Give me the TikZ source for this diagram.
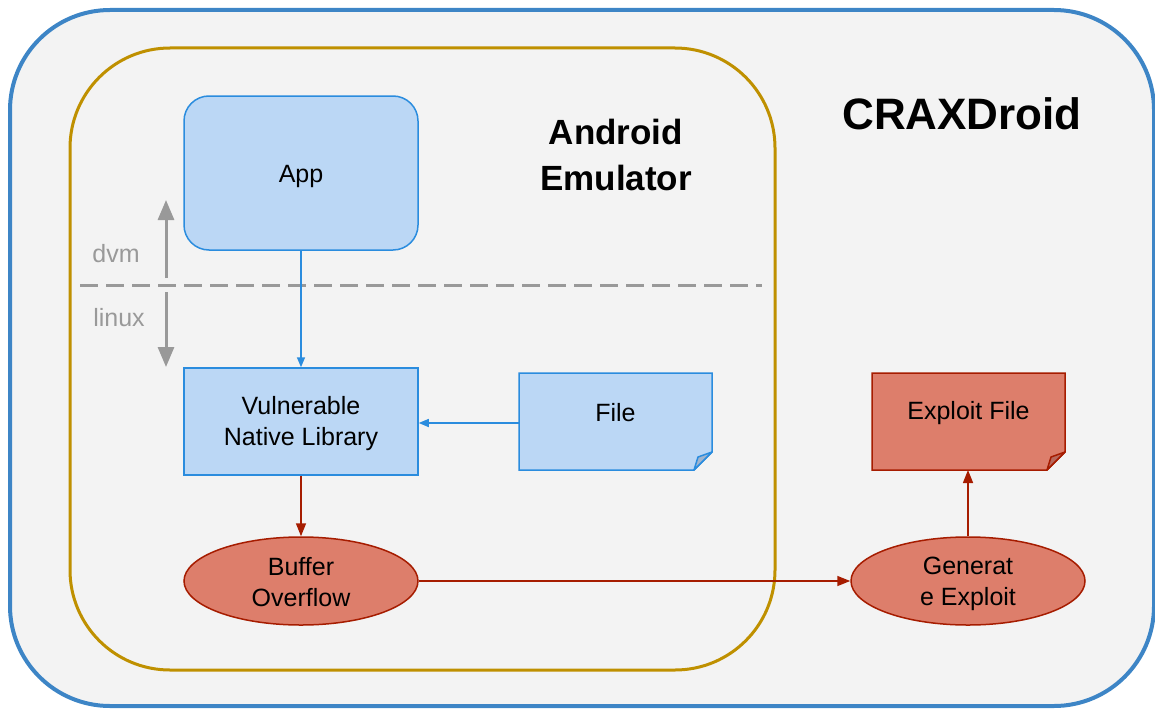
\documentclass[tikz,border=0pt]{standalone}
\usepackage{fontspec}
\setmainfont{Liberation Sans}
\usetikzlibrary{arrows.meta,shapes.geometric}
\definecolor{bgfill}{RGB}{243,243,243}
\definecolor{outerblue}{RGB}{61,133,198}
\definecolor{gold}{RGB}{191,144,0}
\definecolor{lblue}{RGB}{187,215,245}
\definecolor{sblue}{RGB}{42,140,222}
\definecolor{fblue}{RGB}{160,180,205}
\definecolor{lred}{RGB}{221,126,107}
\definecolor{sred}{RGB}{166,28,0}
\definecolor{fred}{RGB}{184,104,92}
\definecolor{gr}{RGB}{153,153,153}
\tikzset{
  bluebox/.style={draw=sblue,fill=lblue,line width=1.5pt},
  redbox/.style={draw=sred,fill=lred,line width=1.5pt},
  redell/.style={ellipse,draw=sred,fill=lred,line width=1.5pt,minimum width=234pt,minimum height=88pt,inner sep=0pt,align=center,font=\fontsize{25}{31}\selectfont},
  lbl/.style={font=\fontsize{25}{31}\selectfont,align=center},
  bluearrow/.style={draw=sblue,line width=1.5pt,-{Triangle[length=10pt,width=8pt]}},
  redarrow/.style={draw=sred,line width=1.5pt,-{Triangle[length=13pt,width=10pt]}},
  grayarrow/.style={draw=gr,line width=3pt,-{Triangle[length=20pt,width=16pt]}},
}
\begin{document}
\begin{tikzpicture}[x=1pt,y=-1pt]
\useasboundingbox (0,0) rectangle (1155,709);
% outer container
\begin{scope}
\clip (0,0) rectangle (1155,709);
\draw[draw=outerblue,fill=bgfill,line width=4pt,rounded corners=100pt] (10,10) rectangle (1154,706);
\end{scope}
\node[font=\fontsize{44}{50}\selectfont\bfseries] (crax) at (962,114) {CRAXDroid};
% emulator
\draw[draw=gold,line width=3pt,rounded corners=100pt] (70,48) rectangle (775,670);
\node[font=\fontsize{35}{46}\selectfont\bfseries,align=center] (emu) at (616,155) {Android\\Emulator};
% dvm/linux divider
\draw[draw=gr,line width=3pt,dash pattern=on 18pt off 8pt] (80,285) -- (762,285);
\coordinate (dvmtop) at (166,200);
\coordinate (dvmbot) at (166,278);
\coordinate (lxtop) at (166,292);
\coordinate (lxbot) at (166,367);
\draw[grayarrow] (dvmbot) -- (dvmtop);
\draw[grayarrow] (lxtop) -- (lxbot);
\node[text=gr,font=\fontsize{25}{30}\selectfont] (dvm) at (116,254) {dvm};
\node[text=gr,font=\fontsize{25}{30}\selectfont] (linux) at (119,318) {linux};
% nodes
\node[bluebox,rounded corners=25pt,minimum width=234pt,minimum height=154pt] (app) at (301,173) {};
\node[lbl] (applbl) at (301,176) {App};
\node[bluebox,minimum width=234pt,minimum height=107pt,lbl] (vnl) at (301,421.5) {};
\node[lbl] (vnllbl) at (301,423.5) {Vulnerable\\Native Library};
% File (folded corner)
\filldraw[bluebox] (519,373) -- (712,373) -- (712,452) -- (694,470) -- (519,470) -- cycle;
\filldraw[draw=sblue,fill=fblue,line width=1.5pt,line join=round] (712,452) -- (694,470) -- (698,457) -- cycle;
\node[lbl] (file) at (615.5,413) {File};
% Exploit file
\filldraw[redbox] (872,373) -- (1065,373) -- (1065,452) -- (1047,470) -- (872,470) -- cycle;
\filldraw[draw=sred,fill=fred,line width=1.5pt,line join=round] (1065,452) -- (1047,470) -- (1051,457) -- cycle;
\node[lbl] (expl) at (968.5,413) {Exploit File};
\coordinate (explbot) at (968,470);
\coordinate (fileleft) at (519,423);
% ellipses
\node[redell] (bo) at (301,581) {};
\node[lbl] (bolbl) at (301,582) {Buffer\\Overflow};
\node[redell] (ge) at (968,581) {};
\node[lbl] (gelbl) at (968,584) {Generat\\e Exploit};
% connectors
\draw[bluearrow] (app.south) -- (vnl.north);
\draw[bluearrow] (fileleft) -- (vnl.east |- fileleft);
\draw[redarrow] (vnl.south) -- (bo.north);
\draw[redarrow] (bo.east) -- (ge.west);
\draw[redarrow] (ge.north) -- (explbot);
\end{tikzpicture}
\end{document}
